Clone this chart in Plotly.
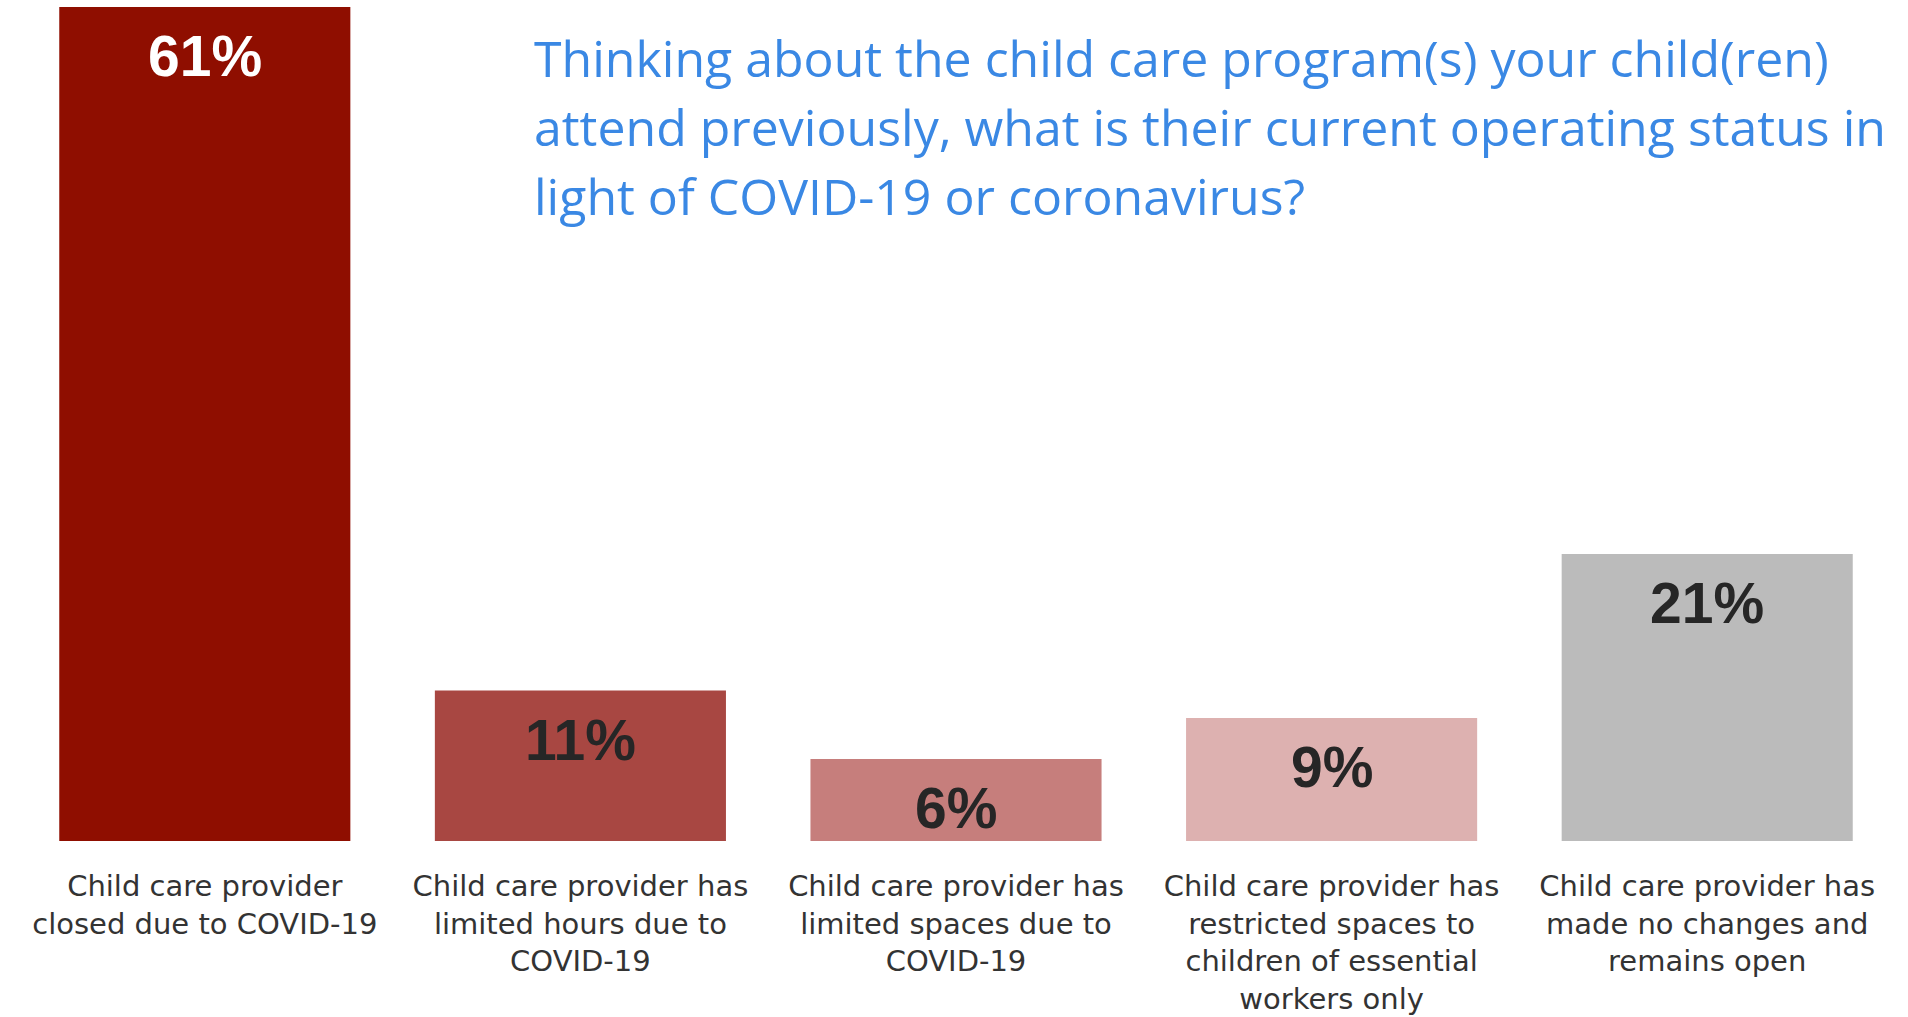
import plotly.graph_objects as go

# Survey responses: current operating status of the child care program
categories = [
    "Child care provider<br>closed due to COVID-19",
    "Child care provider has<br>limited hours due to<br>COVID-19",
    "Child care provider has<br>limited spaces due to<br>COVID-19",
    "Child care provider has<br>restricted spaces to<br>children of essential<br>workers only",
    "Child care provider has<br>made no changes and<br>remains open",
]
percentages = [61, 11, 6, 9, 21]
bar_colors = ["#8F0E00", "#A84742", "#C67E7C", "#DDB1B0", "#BBBBBB"]
label_colors = ["#FFFFFF", "#262626", "#262626", "#262626", "#262626"]

question_lines = [
    "Thinking about the child care program(s) your child(ren)",
    "attend previously, what is their current operating status in",
    "light of COVID-19 or coronavirus?",
]

W, H = 1908, 1017
M_L, M_R, M_T, M_B = 17, 13, 7, 176
plot_h = H - M_T - M_B

fig = go.Figure(
    go.Bar(
        x=categories,
        y=percentages,
        marker=dict(color=bar_colors, line=dict(width=0)),
        hoverinfo="skip",
    )
)

# Percentage labels near the top of each bar
for cat, val, col in zip(categories, percentages, label_colors):
    fig.add_annotation(
        x=cat, y=val, xref="x", yref="y",
        text=f"{val}%",
        showarrow=False,
        yanchor="middle",
        yshift=-49,
        font=dict(family="Liberation Sans, Arial, sans-serif", size=57,
                  color=col, weight="bold"),
    )

# Question text, one line per annotation
line_centers_px = [58, 127, 196]
for txt, cy in zip(question_lines, line_centers_px):
    fig.add_annotation(
        x=(532 - M_L) / (W - M_L - M_R), xref="paper",
        y=(H - M_B - cy) / plot_h, yref="paper",
        text=txt,
        showarrow=False,
        xanchor="left", yanchor="middle",
        font=dict(family="Open Sans, sans-serif", size=50, color="#3A88E4"),
    )

fig.update_layout(
    width=W, height=H,
    margin=dict(l=M_L, r=M_R, t=M_T, b=M_B, autoexpand=False),
    paper_bgcolor="white",
    plot_bgcolor="white",
    bargap=0.225,
    showlegend=False,
    xaxis=dict(
        range=[-0.5, 4.5],
        automargin=False,
        showgrid=False, zeroline=False, showline=False,
        ticks="", tickangle=0,
        ticklabelstandoff=25,
        tickfont=dict(family="DejaVu Sans, sans-serif", size=29, color="#333333"),
    ),
    yaxis=dict(
        range=[0, 61],
        visible=False,
        automargin=False,
        showgrid=False, zeroline=False,
    ),
)

fig.write_html("out.html")
